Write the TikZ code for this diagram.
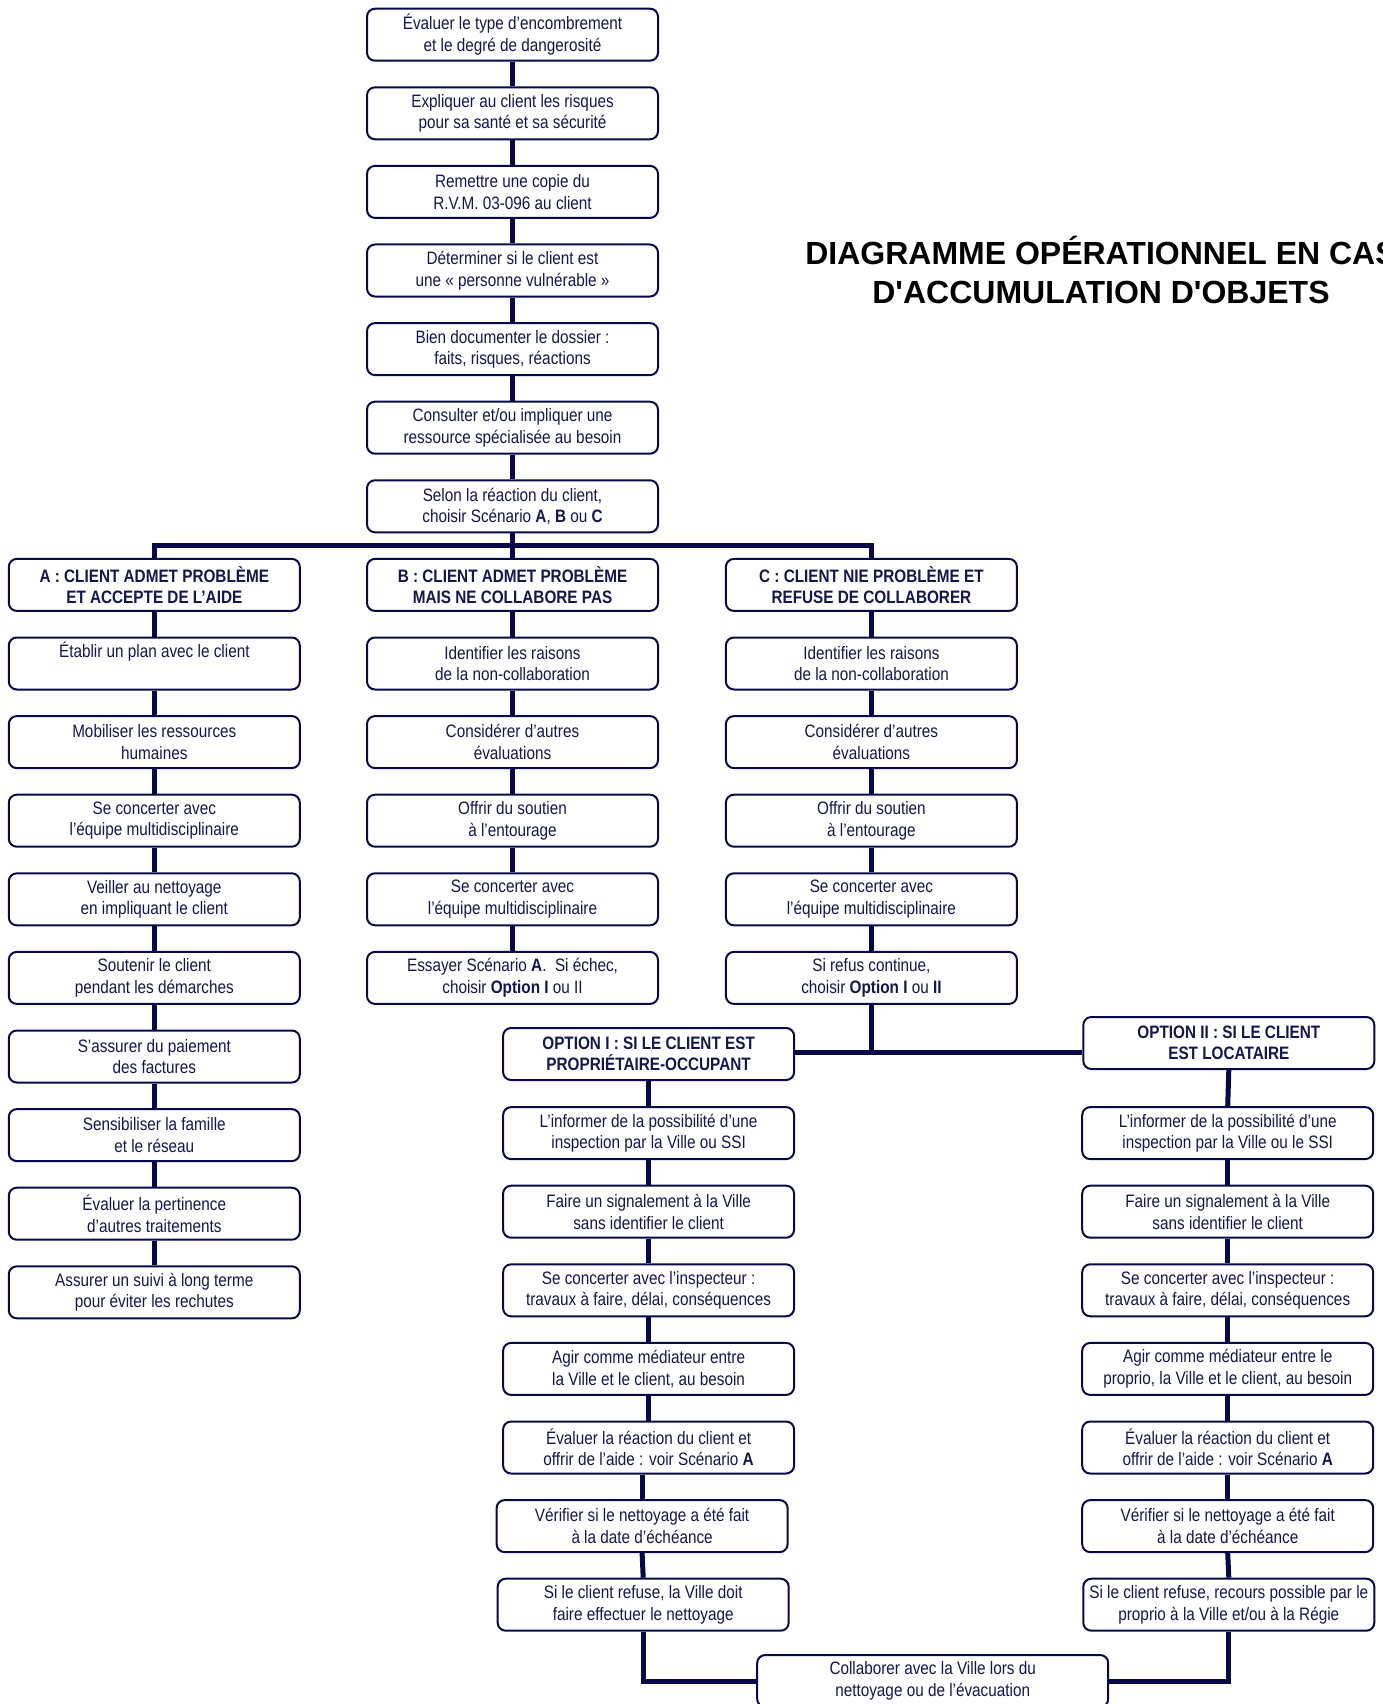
\documentclass[tikz,border=0pt]{standalone}
\usepackage{fontspec}
\newfontfamily\boxfont{Liberation Sans}[FakeStretch=0.85]
\newfontfamily\titlefont{Liberation Sans}
\definecolor{navyline}{RGB}{8,8,72}
\definecolor{navytext}{RGB}{22,22,78}
\tikzset{
  stepbox/.style={draw=navyline, line width=2pt, rounded corners=8pt, fill=white,
    minimum width=291pt, minimum height=52pt, inner sep=0pt, align=center,
    text=navytext, font=\boxfont\fontsize{18}{21.5}\selectfont},
  headbox/.style={stepbox, font=\boxfont\bfseries\fontsize{18}{21.5}\selectfont},
  link/.style={draw=navyline, line width=5pt, line join=miter},
  titletext/.style={font=\titlefont\bfseries\fontsize{32}{38}\selectfont, text=black, inner sep=0pt, anchor=base}
}
\begin{document}
\begin{tikzpicture}[x=1pt,y=-1pt]
\useasboundingbox (0,0) rectangle (1382,1704);

% title
\node[titletext] (t1) at (1101,265) {DIAGRAMME OPÉRATIONNEL EN CAS};
\node[titletext] (t2) at (1101,303) {D'ACCUMULATION D'OBJETS};

\coordinate (barY) at (0,545);
\coordinate (optY) at (0,1052);

% connectors (drawn first)
% central column
\begin{scope}
\end{scope}

% central column
\node[stepbox] (m1) at (512.5,34.7) {Évaluer le type d’encombrement\\et le degré de dangerosité};
\node[stepbox] (m2) at (512.5,113.3) {Expliquer au client les risques\\pour sa santé et sa sécurité};
\node[stepbox] (m3) at (512.5,191.9) {Remettre une copie du\\R.V.M. 03-096 au client};
\node[stepbox] (m4) at (512.5,270.5) {Déterminer si le client est\\une «~personne vulnérable~»};
\node[stepbox] (m5) at (512.5,349.1) {Bien documenter le dossier :\\faits, risques, réactions};
\node[stepbox] (m6) at (512.5,427.7) {Consulter et/ou impliquer une\\ressource spécialisée au besoin};
\node[stepbox] (m7) at (512.5,506.3) {Selon la réaction du client,\\choisir Scénario \textbf{A}, \textbf{B} ou \textbf{C}};

% headers
\node[headbox] (ha) at (154.3,584.9) {A : CLIENT ADMET PROBLÈME\\ET ACCEPTE DE L’AIDE};
\node[headbox] (hb) at (512.5,584.9) {B : CLIENT ADMET PROBLÈME\\MAIS NE COLLABORE PAS};
\node[headbox] (hc) at (871.4,584.9) {C : CLIENT NIE PROBLÈME ET\\REFUSE DE COLLABORER};

% column A
\node[stepbox] (a1) at (154.3,663.5) {Établir un plan avec le client\\\strut};
\node[stepbox] (a2) at (154.3,742.1) {Mobiliser les ressources\\humaines};
\node[stepbox] (a3) at (154.3,820.7) {Se concerter avec\\l’équipe multidisciplinaire};
\node[stepbox] (a4) at (154.3,899.3) {Veiller au nettoyage\\en impliquant le client};
\node[stepbox] (a5) at (154.3,977.9) {Soutenir le client\\pendant les démarches};
\node[stepbox] (a6) at (154.3,1056.5) {S’assurer du paiement\\des factures};
\node[stepbox] (a7) at (154.3,1135.1) {Sensibiliser la famille\\et le réseau};
\node[stepbox] (a8) at (154.3,1213.7) {Évaluer la pertinence\\d’autres traitements};
\node[stepbox] (a9) at (154.3,1292.3) {Assurer un suivi à long terme\\pour éviter les rechutes};

% column B
\node[stepbox] (b1) at (512.5,663.5) {Identifier les raisons\\de la non-collaboration};
\node[stepbox] (b2) at (512.5,742.1) {Considérer d’autres\\évaluations};
\node[stepbox] (b3) at (512.5,820.7) {Offrir du soutien\\à l’entourage};
\node[stepbox] (b4) at (512.5,899.3) {Se concerter avec\\l’équipe multidisciplinaire};
\node[stepbox] (b5) at (512.5,977.9) {Essayer Scénario \textbf{A}.\ \ Si échec,\\choisir \textbf{Option I} ou II};

% column C
\node[stepbox] (c1) at (871.4,663.5) {Identifier les raisons\\de la non-collaboration};
\node[stepbox] (c2) at (871.4,742.1) {Considérer d’autres\\évaluations};
\node[stepbox] (c3) at (871.4,820.7) {Offrir du soutien\\à l’entourage};
\node[stepbox] (c4) at (871.4,899.3) {Se concerter avec\\l’équipe multidisciplinaire};
\node[stepbox] (c5) at (871.4,977.9) {Si refus continue,\\choisir \textbf{Option I} ou \textbf{II}};

% option I
\node[headbox] (p0) at (648.6,1054) {OPTION I : SI LE CLIENT EST\\PROPRIÉTAIRE-OCCUPANT};
\node[stepbox] (p1) at (648.6,1133.1) {L’informer de la possibilité d’une\\inspection par la Ville ou SSI};
\node[stepbox] (p2) at (648.6,1211.7) {Faire un signalement à la Ville\\sans identifier le client};
\node[stepbox] (p3) at (648.6,1290.3) {Se concerter avec l’inspecteur :\\travaux à faire, délai, conséquences};
\node[stepbox] (p4) at (648.6,1368.9) {Agir comme médiateur entre\\la Ville et le client, au besoin};
\node[stepbox] (p5) at (648.6,1447.5) {Évaluer la réaction du client et\\offrir de l’aide : voir Scénario \textbf{A}};
\node[stepbox] (p6) at (642.1,1526.1) {Vérifier si le nettoyage a été fait\\à la date d’échéance};
\node[stepbox] (p7) at (643.2,1604.7) {Si le client refuse, la Ville doit\\faire effectuer le nettoyage};

% option II
\node[headbox] (q0) at (1228.8,1043) {OPTION II : SI LE CLIENT\\EST LOCATAIRE};
\node[stepbox] (q1) at (1227.7,1133.1) {L’informer de la possibilité d’une\\inspection par la Ville ou le SSI};
\node[stepbox] (q2) at (1227.7,1211.7) {Faire un signalement à la Ville\\sans identifier le client};
\node[stepbox] (q3) at (1227.7,1290.3) {Se concerter avec l’inspecteur :\\travaux à faire, délai, conséquences};
\node[stepbox] (q4) at (1227.7,1368.9) {Agir comme médiateur entre le\\proprio, la Ville et le client, au besoin};
\node[stepbox] (q5) at (1227.7,1447.5) {Évaluer la réaction du client et\\offrir de l’aide : voir Scénario \textbf{A}};
\node[stepbox] (q6) at (1227.7,1526.1) {Vérifier si le nettoyage a été fait\\à la date d’échéance};
\node[stepbox] (q7) at (1228.8,1604.7) {Si le client refuse, recours possible par le\\proprio à la Ville et/ou à la Régie};

% final
\node[stepbox, minimum width=351pt] (fin) at (932.7,1681) {Collaborer avec la Ville lors du\\nettoyage ou de l’évacuation};

% connectors
\foreach \u/\v in {m1/m2,m2/m3,m3/m4,m4/m5,m5/m6,m6/m7,m7/hb,
  ha/a1,a1/a2,a2/a3,a3/a4,a4/a5,a5/a6,a6/a7,a7/a8,a8/a9,
  hb/b1,b1/b2,b2/b3,b3/b4,b4/b5,
  hc/c1,c1/c2,c2/c3,c3/c4,c4/c5,
  p0/p1,p1/p2,p2/p3,p3/p4,p4/p5,p6/p7,
  q0/q1,q1/q2,q2/q3,q3/q4,q4/q5,q5/q6,q6/q7}
  \draw[link] (\u.south) -- (\v.north);
\draw[link] (p6.north) -- (p6.north |- p5.south);
\draw[link] (ha.north) -- (ha.north |- barY) -- (hc.north |- barY) -- (hc.north);
\draw[link] (c5.south) -- (c5.south |- optY);
\draw[link] (p0.east |- optY) -- (q0.west |- optY);
\draw[link] (p7.south) |- (fin.west);
\draw[link] (q7.south) |- (fin.east);
\end{tikzpicture}
\end{document}
